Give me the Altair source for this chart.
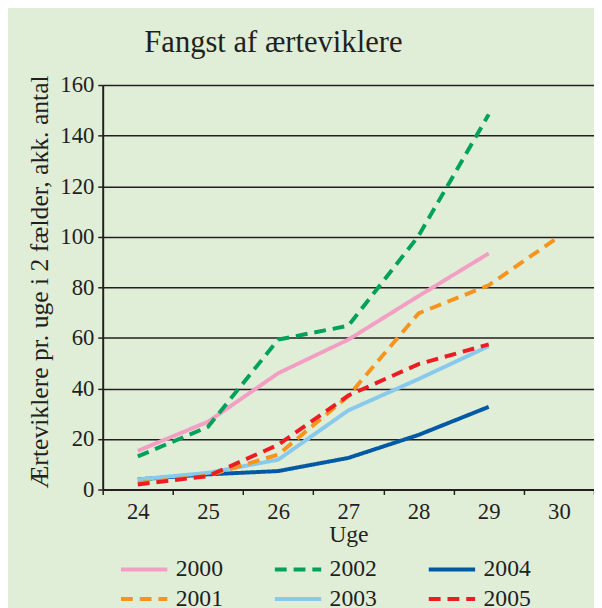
import altair as alt
import pandas as pd

weeks = [24, 25, 26, 27, 28, 29, 30]
y2000 = [15.3, 26.8, 46.0, 59.3, 76.5, 93.4]
y2001 = [2.5, 5.5, 13.8, 37.0, 69.7, 80.8, 100.0]
y2002 = [13.1, 24.8, 59.3, 64.8, 100.3, 148.4]
y2003 = [4.0, 6.6, 11.8, 31.3, 43.7, 56.7]
y2004 = [4.0, 6.0, 7.3, 12.5, 21.6, 32.7]
y2005 = [2.0, 5.3, 17.7, 37.2, 49.6, 57.4]

series = {"2000": y2000, "2002": y2002, "2004": y2004,
          "2003": y2003, "2001": y2001, "2005": y2005}
legend_order = ["2000", "2001", "2002", "2003", "2004", "2005"]
color_range = ["#f39fc4", "#f7941d", "#00a25a", "#89c9ec", "#0059a4", "#ec1c24"]
dash_range = [[1, 0], [12, 7], [12, 7], [1, 0], [1, 0], [12, 7]]

rows = []
for yr, vals in series.items():
    for w, v in zip(weeks, vals):
        rows.append({"year": yr, "week": w, "value": v})
df = pd.DataFrame(rows)

FONT = "Liberation Serif"
INK = "#231f20"

leg = alt.Legend(title=None, orient="none", legendX=30, legendY=479, columns=3,
                 columnPadding=44, rowPadding=6, symbolType="M-2.35,0L2.35,0",
                 symbolSize=400, symbolStrokeWidth=4, labelFont=FONT,
                 labelFontSize=24, labelOffset=20, labelColor=INK)

chart = alt.Chart(df).mark_line(strokeWidth=4).encode(
    x=alt.X("week:O",
            scale=alt.Scale(type="band", domain=weeks, paddingInner=0, paddingOuter=0),
            bandPosition=0.5,
            axis=alt.Axis(title="Uge", labelAngle=0, tickBand="extent", grid=False,
                          tickSize=5, labelPadding=6, titlePadding=0)),
    y=alt.Y("value:Q", scale=alt.Scale(domain=[0, 160], nice=False),
            axis=alt.Axis(title="Ærteviklere pr. uge i 2 fælder, akk. antal",
                          values=list(range(0, 161, 20)), grid=True,
                          tickSize=5, labelPadding=4, titlePadding=7,
                          titleFontSize=26, titleY=199)),
    color=alt.Color("year:N", scale=alt.Scale(domain=legend_order, range=color_range), legend=leg),
    strokeDash=alt.StrokeDash("year:N", scale=alt.Scale(domain=legend_order, range=dash_range), legend=leg),
).properties(
    width=498, height=410,
    title=alt.Title("Fangst af ærteviklere", font=FONT, fontSize=31, fontWeight="normal",
                    color=INK, anchor="middle", dx=-76, offset=16),
    autosize=alt.AutoSizeParams(type="none"),
    padding={"left": 96, "top": 74, "right": 0, "bottom": 116},
).configure(
    background="#e0eed8"
).configure_view(
    stroke=None
).configure_axis(
    labelFont=FONT, labelFontSize=23, labelColor=INK,
    titleFont=FONT, titleFontSize=24, titleFontWeight="normal", titleColor=INK,
    domainColor=INK, domainWidth=2, tickColor=INK, tickWidth=1.5,
    gridColor=INK, gridWidth=1.5, gridOpacity=1
)

chart.save("out.html", embed_options={"renderer": "svg", "actions": False})
